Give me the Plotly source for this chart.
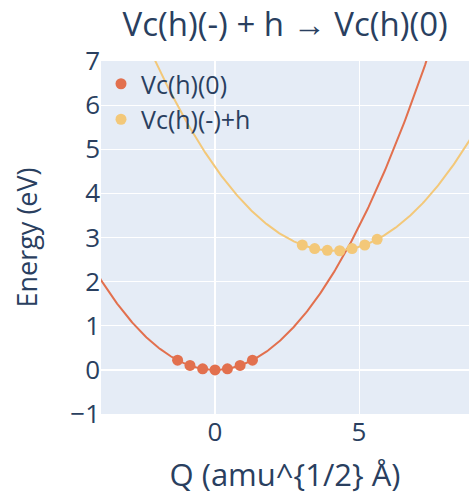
import numpy as np
import plotly.graph_objects as go

# Data
q_neutral = [-1.30, -0.87, -0.43, 0.00, 0.43, 0.87, 1.30]
e_neutral = [0.22, 0.10, 0.025, 0.0, 0.025, 0.10, 0.22]

q_charged = [3.03, 3.46, 3.90, 4.33, 4.76, 5.20, 5.63]
e_charged = [2.83, 2.75, 2.71, 2.70, 2.75, 2.83, 2.96]

name_neutral = "Vc(h)(0)"
name_charged = "Vc(h)(-)+h"
color_neutral = "#E2704E"
color_charged = "#F3C879"

# Harmonic fits of the computed points (as in a configuration-coordinate diagram)
q_line = np.linspace(-6, 11, 400)
fit_neutral = np.polyfit(q_neutral, e_neutral, 2)
fit_charged = np.polyfit(q_charged, e_charged, 2)

fig = go.Figure()
fig.add_trace(go.Scatter(x=q_line, y=np.polyval(fit_neutral, q_line), mode="lines",
                         line=dict(color=color_neutral, width=2), showlegend=False,
                         hoverinfo="skip"))
fig.add_trace(go.Scatter(x=q_line, y=np.polyval(fit_charged, q_line), mode="lines",
                         line=dict(color=color_charged, width=2), showlegend=False,
                         hoverinfo="skip"))
fig.add_trace(go.Scatter(x=q_neutral, y=e_neutral, mode="markers", name=name_neutral,
                         marker=dict(color=color_neutral, size=11)))
fig.add_trace(go.Scatter(x=q_charged, y=e_charged, mode="markers", name=name_charged,
                         marker=dict(color=color_charged, size=11)))

fig.update_layout(
    width=469, height=497,
    margin=dict(l=101, r=0, t=61, b=83),
    template="plotly",
    font=dict(family="Open Sans", size=24, color="#2a3f5f"),
    title=dict(text="Vc(h)(-) + h → Vc(h)(0)", x=0.608, xanchor="center",
               y=0.95, yanchor="middle", font=dict(size=33)),
    xaxis=dict(title=dict(text="Q (amu^{1/2} Å)", font=dict(size=31), standoff=16),
               range=[-3.96, 8.82], tickfont=dict(size=26), dtick=5,
               zeroline=True, zerolinecolor="white", zerolinewidth=2),
    yaxis=dict(title=dict(text="Energy (eV)", font=dict(size=27), standoff=24),
               range=[-1, 7], tickfont=dict(size=26), dtick=1,
               zeroline=True, zerolinecolor="white", zerolinewidth=2),
    legend=dict(x=0.0, y=1.0, xanchor="left", yanchor="top",
                bgcolor="rgba(0,0,0,0)", font=dict(size=25)),
)

fig.write_html("out.html")
